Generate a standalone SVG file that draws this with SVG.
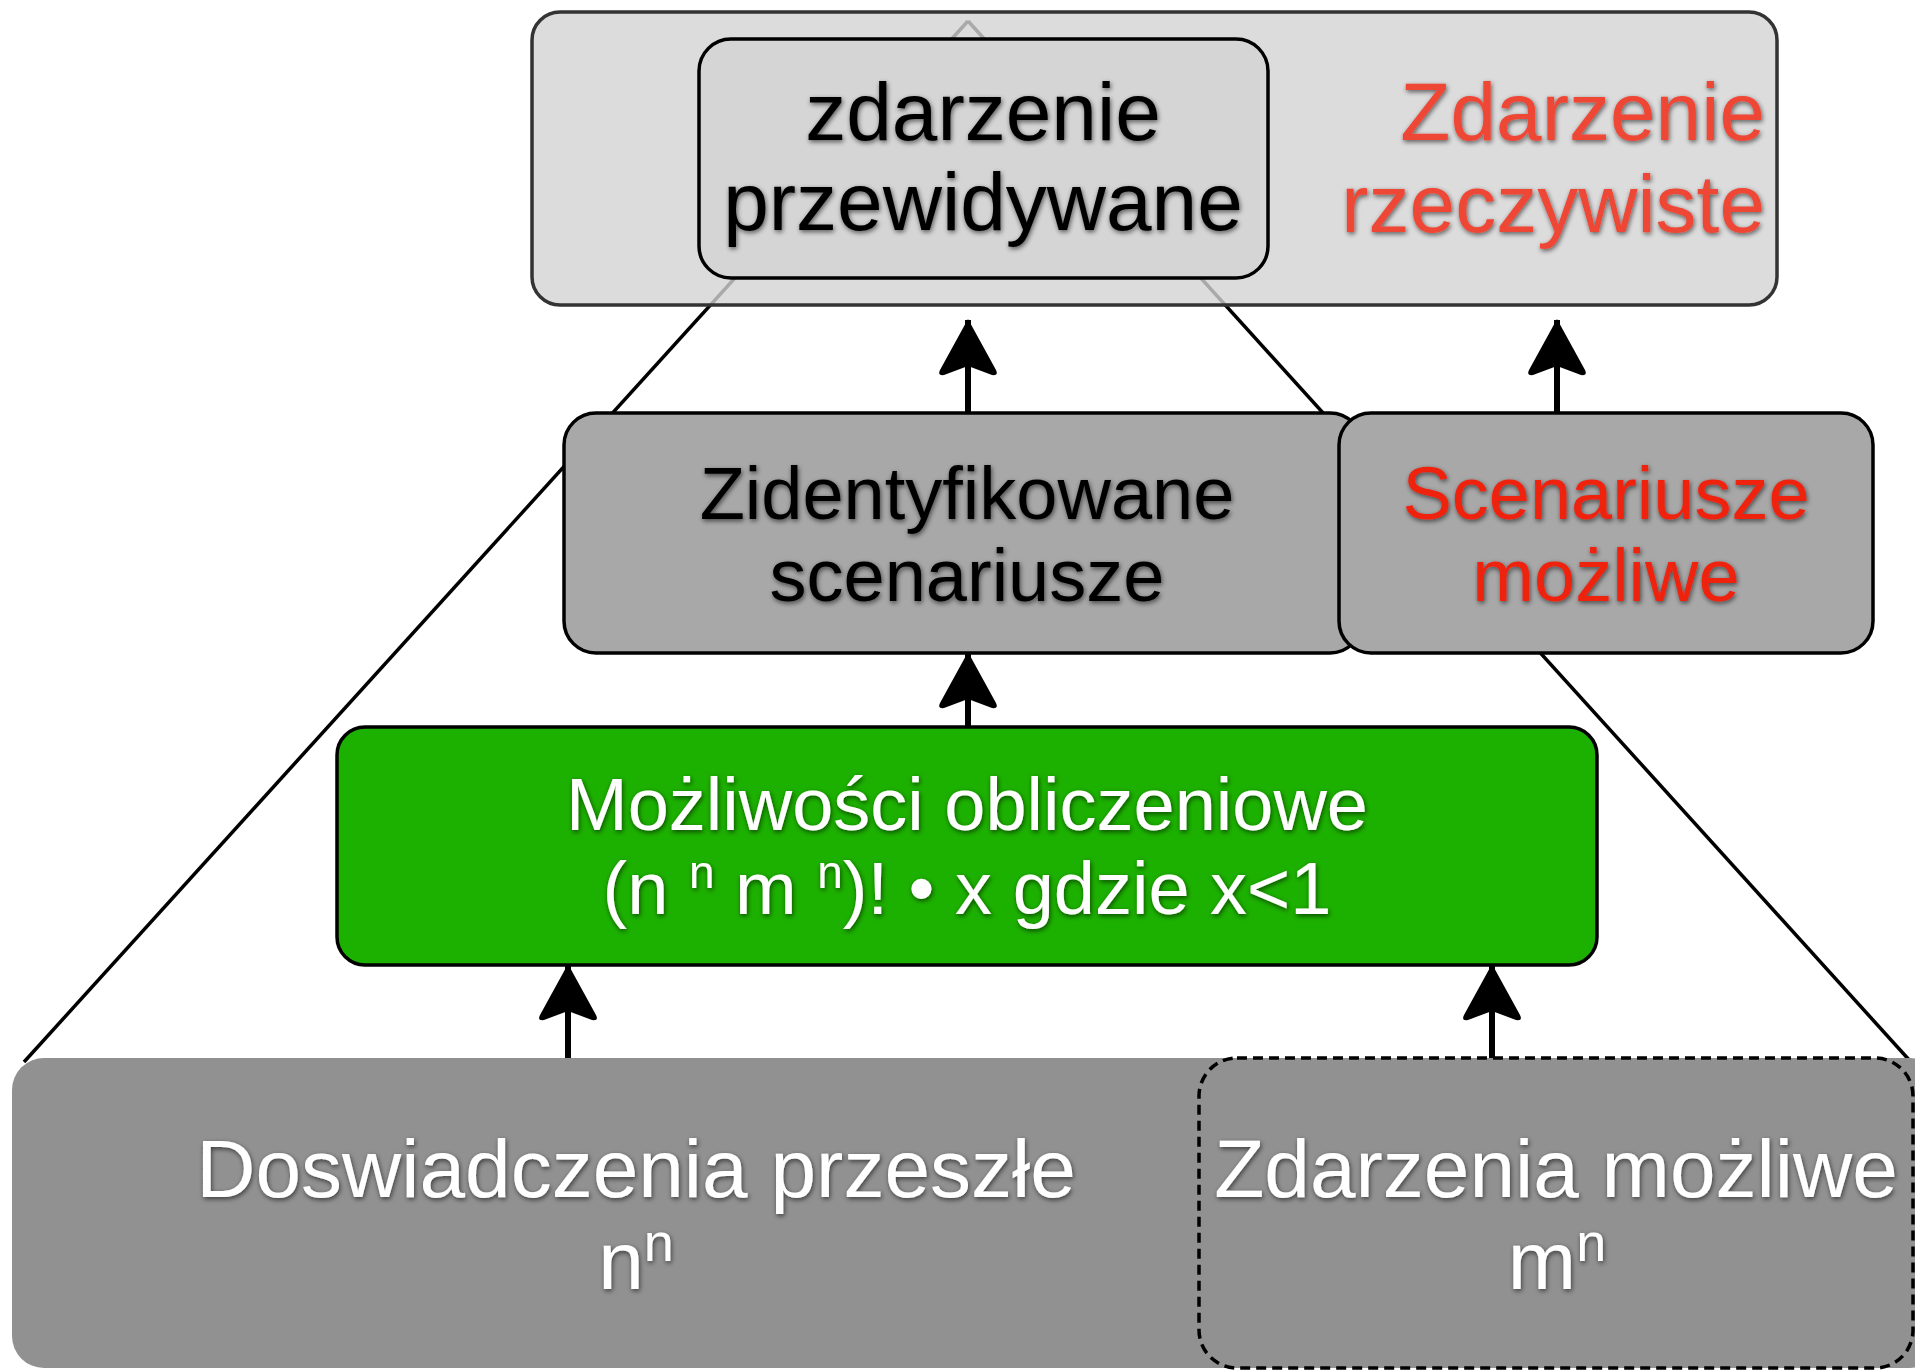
<svg xmlns="http://www.w3.org/2000/svg" width="1915" height="1371" viewBox="0 0 1915 1371">
<style>
.t{font-family:"Liberation Sans",Arial,Helvetica,sans-serif;text-anchor:middle;filter:url(#sh)}
.k{fill:#000}
.w{fill:#fff}
.r1{fill:#ef4634}
.r2{fill:#ee2210}
.box{stroke:#000;stroke-width:3.5}
.tri{stroke:#000;stroke-width:3.5;fill:none}
.arr{stroke:#000;stroke-width:6;fill:none;marker-end:url(#ah)}
</style>
<defs>
<filter id="sh" x="-10%" y="-30%" width="120%" height="160%">
<feGaussianBlur in="SourceAlpha" stdDeviation="2.5"/>
<feOffset dx="1" dy="2" result="b"/>
<feComponentTransfer><feFuncA type="linear" slope="0.6"/></feComponentTransfer>
<feMerge><feMergeNode/><feMergeNode in="SourceGraphic"/></feMerge>
</filter>
<marker id="ah" viewBox="0 0 58 62" refX="56" refY="31" markerWidth="58" markerHeight="62" markerUnits="userSpaceOnUse" orient="auto">
<path d="M57,31 L6,3 Q0,0 1,7 L10,31 L1,55 Q0,62 6,59 Z" fill="#000"/>
</marker>
</defs>
<g id="triangle">
<line class="tri" x1="968" y1="21" x2="24" y2="1062"/>
<line class="tri" x1="968" y1="21" x2="1911" y2="1062"/>
</g>
<g id="node-top">
<rect x="532" y="12" width="1245" height="293" rx="28" fill="#d3d3d3" fill-opacity="0.8" stroke="#333" stroke-width="3.5"/>
<text class="t r1" font-size="82" style="text-anchor:end" x="1765" y="140">Zdarzenie</text>
<text class="t r1" font-size="82" style="text-anchor:end" x="1765" y="232">rzeczywiste</text>
</g>
<g id="node-przewidywane">
<rect class="box" x="699" y="39" width="569" height="239" rx="32" fill="#d5d5d5"/>
<text class="t k" font-size="82" x="983" y="140">zdarzenie</text>
<text class="t k" font-size="82" x="983" y="230">przewidywane</text>
</g>
<g id="node-zidentyfikowane">
<rect class="box" x="564" y="413" width="798" height="240" rx="32" fill="#a8a8a8"/>
<text class="t k" font-size="74" x="967" y="519">Zidentyfikowane</text>
<text class="t k" font-size="74" x="967" y="601">scenariusze</text>
</g>
<g id="node-scenariusze">
<rect class="box" x="1339" y="413" width="534" height="240" rx="32" fill="#a8a8a8"/>
<text class="t r2" font-size="74" x="1606" y="519">Scenariusze</text>
<text class="t r2" font-size="74" x="1606" y="601">możliwe</text>
</g>
<g id="node-obliczeniowe">
<rect class="box" x="337" y="727" width="1260" height="238" rx="28" fill="#1cb000"/>
<text class="t w" font-size="74" x="967" y="830">Możliwości obliczeniowe</text>
<text class="t w" font-size="74" x="967" y="914">(n <tspan font-size="46" dy="-26">n</tspan><tspan dy="26"> m </tspan><tspan font-size="46" dy="-26">n</tspan><tspan dy="26">)! • x gdzie x&lt;1</tspan></text>
</g>
<g id="node-doswiadczenia">
<rect x="12" y="1058" width="1930" height="310" rx="32" fill="#919191"/>
<text class="t w" font-size="82" x="636" y="1197">Doswiadczenia przeszłe</text>
<text class="t w" font-size="82" x="636" y="1289">n<tspan font-size="54" dy="-28">n</tspan></text>
</g>
<g id="node-zdarzenia">
<rect x="1199" y="1058" width="714" height="310" rx="38" fill="#919191" stroke="#000" stroke-width="3.5" stroke-dasharray="10 6"/>
<text class="t w" font-size="82" x="1556" y="1197">Zdarzenia możliwe</text>
<text class="t w" font-size="82" x="1557" y="1289">m<tspan font-size="54" dy="-28">n</tspan></text>
</g>
<g id="connectors">
<line class="arr" x1="968" y1="413" x2="968" y2="320"/>
<line class="arr" x1="1557" y1="413" x2="1557" y2="320"/>
<line class="arr" x1="968" y1="727" x2="968" y2="653"/>
<line class="arr" x1="568" y1="1058" x2="568" y2="965"/>
<line class="arr" x1="1492" y1="1058" x2="1492" y2="965"/>
</g>
</svg>
